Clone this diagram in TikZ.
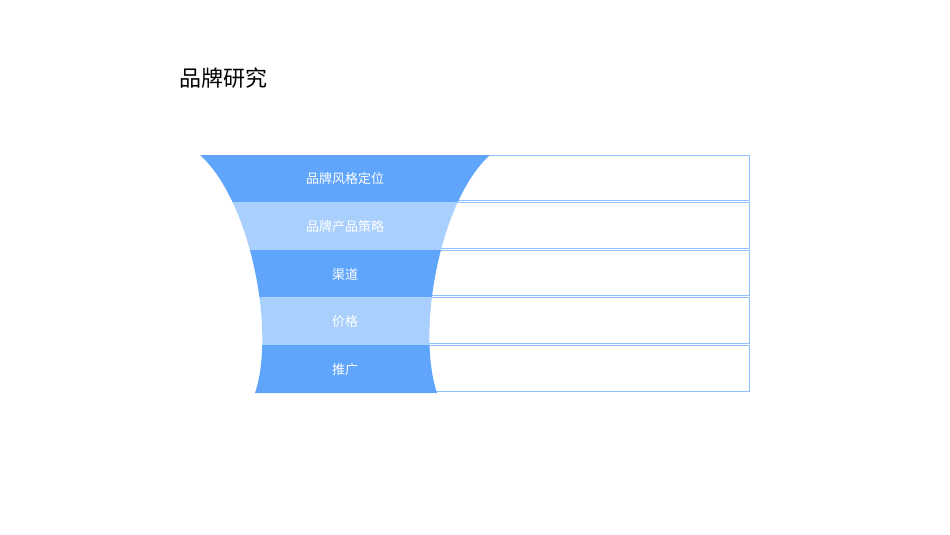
\documentclass[tikz,border=0pt]{standalone}
\usepackage{fontspec}
\setmainfont{Noto Sans CJK SC}
\begin{document}
\begin{tikzpicture}[x=1pt,y=-1pt,
  box/.style={draw=dk!70,line width=0.8pt,fill=white},
  lab/.style={text=white,font=\fontsize{13}{15}\selectfont}]
\definecolor{dk}{HTML}{5FA5FC}
\definecolor{lt}{HTML}{A9CFFD}
\useasboundingbox (0,0) rectangle (950,535);
\node[anchor=west,font=\fontsize{22}{26}\selectfont] (title) at (176,78) {品牌研究};
\foreach \i in {0,...,4}{
  \draw[box] (420,155+47.6*\i) rectangle (749,200.5+47.6*\i);
}
\def\funnel{(200,155) .. controls (250,200) and (276,330) .. (255,393) -- (437,393) .. controls (416,330) and (440,200) .. (490,155) -- cycle}
\foreach \i/\c in {0/dk,1/lt,2/dk,3/lt,4/dk}{
  \begin{scope}
    \clip (150,155+47.6*\i) rectangle (550,155+47.6*\i+47.6);
    \fill[\c] \funnel;
  \end{scope}
}
\foreach \i/\t in {0/品牌风格定位,1/品牌产品策略,2/渠道,3/价格,4/推广}{
  \node[lab] (r\i) at (345,179+47.6*\i) {\t};
}
\end{tikzpicture}
\end{document}
